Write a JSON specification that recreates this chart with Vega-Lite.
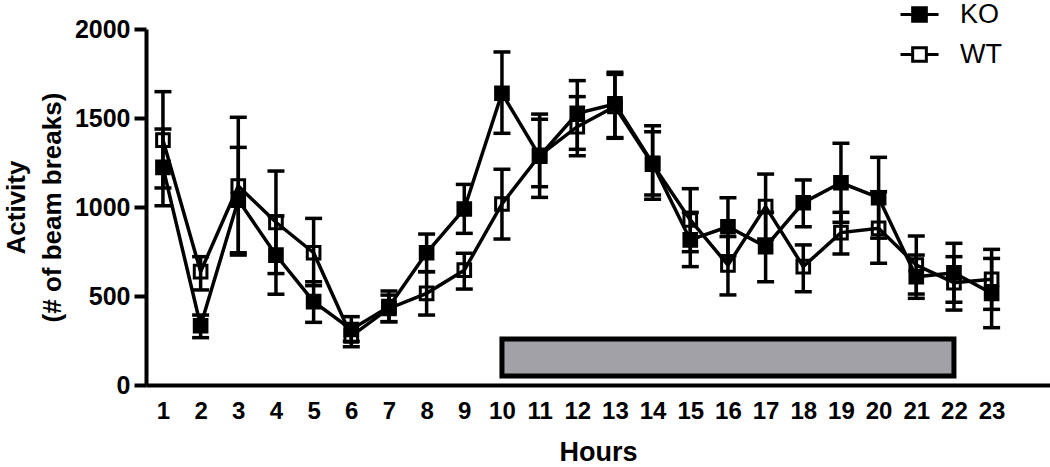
{
  "$schema": "https://vega.github.io/schema/vega-lite/v6.json",
  "width": 904,
  "height": 356,
  "padding": {"left": 146, "top": 29, "right": 0, "bottom": 82},
  "autosize": {"type": "none"},
  "background": "white",
  "config": {
    "view": {"stroke": null},
    "font": "Liberation Sans"
  },
  "datasets": {
    "activity": [
      {"hour": 1, "group": "KO", "mean": 1223, "lo": 1007, "hi": 1438},
      {"hour": 2, "group": "KO", "mean": 333, "lo": 266, "hi": 393},
      {"hour": 3, "group": "KO", "mean": 1039, "lo": 743, "hi": 1335},
      {"hour": 4, "group": "KO", "mean": 730, "lo": 510, "hi": 950},
      {"hour": 5, "group": "KO", "mean": 468, "lo": 352, "hi": 580},
      {"hour": 6, "group": "KO", "mean": 312, "lo": 245, "hi": 384},
      {"hour": 7, "group": "KO", "mean": 440, "lo": 356, "hi": 528},
      {"hour": 8, "group": "KO", "mean": 743, "lo": 636, "hi": 848},
      {"hour": 9, "group": "KO", "mean": 989, "lo": 852, "hi": 1127},
      {"hour": 10, "group": "KO", "mean": 1639, "lo": 1414, "hi": 1871},
      {"hour": 11, "group": "KO", "mean": 1285, "lo": 1054, "hi": 1522},
      {"hour": 12, "group": "KO", "mean": 1526, "lo": 1324, "hi": 1710},
      {"hour": 13, "group": "KO", "mean": 1579, "lo": 1386, "hi": 1757},
      {"hour": 14, "group": "KO", "mean": 1245, "lo": 1043, "hi": 1457},
      {"hour": 15, "group": "KO", "mean": 815, "lo": 665, "hi": 970},
      {"hour": 16, "group": "KO", "mean": 889, "lo": 726, "hi": 1052},
      {"hour": 17, "group": "KO", "mean": 777, "lo": 580, "hi": 970},
      {"hour": 18, "group": "KO", "mean": 1024, "lo": 889, "hi": 1152},
      {"hour": 19, "group": "KO", "mean": 1136, "lo": 914, "hi": 1358},
      {"hour": 20, "group": "KO", "mean": 1052, "lo": 825, "hi": 1279},
      {"hour": 21, "group": "KO", "mean": 608, "lo": 487, "hi": 730},
      {"hour": 22, "group": "KO", "mean": 630, "lo": 465, "hi": 796},
      {"hour": 23, "group": "KO", "mean": 515, "lo": 322, "hi": 711},
      {"hour": 1, "group": "WT", "mean": 1376, "lo": 1107, "hi": 1648},
      {"hour": 2, "group": "WT", "mean": 637, "lo": 534, "hi": 721},
      {"hour": 3, "group": "WT", "mean": 1118, "lo": 730, "hi": 1504},
      {"hour": 4, "group": "WT", "mean": 914, "lo": 626, "hi": 1202},
      {"hour": 5, "group": "WT", "mean": 743, "lo": 558, "hi": 936},
      {"hour": 6, "group": "WT", "mean": 275, "lo": 215, "hi": 340},
      {"hour": 7, "group": "WT", "mean": 430, "lo": 355, "hi": 505},
      {"hour": 8, "group": "WT", "mean": 515, "lo": 393, "hi": 637},
      {"hour": 9, "group": "WT", "mean": 645, "lo": 539, "hi": 740},
      {"hour": 10, "group": "WT", "mean": 1017, "lo": 820, "hi": 1212},
      {"hour": 11, "group": "WT", "mean": 1290, "lo": 1114, "hi": 1493},
      {"hour": 12, "group": "WT", "mean": 1451, "lo": 1288, "hi": 1620},
      {"hour": 13, "group": "WT", "mean": 1565, "lo": 1390, "hi": 1745},
      {"hour": 14, "group": "WT", "mean": 1240, "lo": 1067, "hi": 1423},
      {"hour": 15, "group": "WT", "mean": 927, "lo": 749, "hi": 1103},
      {"hour": 16, "group": "WT", "mean": 674, "lo": 506, "hi": 834},
      {"hour": 17, "group": "WT", "mean": 1002, "lo": 820, "hi": 1185},
      {"hour": 18, "group": "WT", "mean": 665, "lo": 524, "hi": 787},
      {"hour": 19, "group": "WT", "mean": 856, "lo": 736, "hi": 970},
      {"hour": 20, "group": "WT", "mean": 880, "lo": 684, "hi": 1086},
      {"hour": 21, "group": "WT", "mean": 674, "lo": 511, "hi": 837},
      {"hour": 22, "group": "WT", "mean": 575, "lo": 421, "hi": 721},
      {"hour": 23, "group": "WT", "mean": 594, "lo": 425, "hi": 762}
    ],
    "dark": [
      {"start": 10, "end": 22, "low": 50, "high": 258}
    ]
  },
  "layer": [
    {
      "data": {"name": "dark"},
      "mark": {"type": "rect", "fill": "#a2a2a6", "stroke": "black", "strokeWidth": 5},
      "encoding": {
        "x": {"field": "start", "type": "quantitative",
          "scale": {"domain": [0.55, 24.55], "nice": false, "zero": false},
          "axis": {
            "values": [1,2,3,4,5,6,7,8,9,10,11,12,13,14,15,16,17,18,19,20,21,22,23],
            "format": "d",
            "title": "Hours",
            "grid": false,
            "ticks": false,
            "tickSize": 0,
            "domainColor": "black",
            "domainWidth": 4,
            "labelFont": "Liberation Sans",
            "labelFontWeight": "bold",
            "labelFontSize": 24,
            "labelColor": "black",
            "labelPadding": 14,
            "labelFlush": false,
            "labelOverlap": false,
            "titleFont": "Liberation Sans",
            "titleFontWeight": "bold",
            "titleFontSize": 27,
            "titleColor": "black",
            "titlePadding": 16
          }
        },
        "x2": {"field": "end"},
        "y": {"field": "low", "type": "quantitative",
          "scale": {"domain": [0, 2000], "nice": false},
          "axis": {
            "values": [0, 500, 1000, 1500, 2000],
            "format": "d",
            "title": ["Activity", "(# of beam breaks)"],
            "grid": false,
            "domainColor": "black",
            "domainWidth": 4,
            "tickColor": "black",
            "tickWidth": 4,
            "tickSize": 12,
            "labelFont": "Liberation Sans",
            "labelFontWeight": "bold",
            "labelFontSize": 25,
            "labelColor": "black",
            "labelPadding": 4,
            "labelFlush": false,
            "titleFont": "Liberation Sans",
            "titleFontWeight": "bold",
            "titleFontSize": 26,
            "titleLineHeight": 36,
            "titleColor": "black",
            "titlePadding": 9
          }
        },
        "y2": {"field": "high"}
      }
    },
    {
      "data": {"name": "activity"},
      "layer": [
        {
          "mark": {"type": "line", "color": "black", "strokeWidth": 3.5},
          "encoding": {
            "x": {"field": "hour", "type": "quantitative"},
            "y": {"field": "mean", "type": "quantitative"},
            "detail": {"field": "group"}
          }
        },
        {
          "mark": {"type": "rule", "color": "black", "strokeWidth": 3.5},
          "encoding": {
            "x": {"field": "hour", "type": "quantitative"},
            "y": {"field": "lo", "type": "quantitative"},
            "y2": {"field": "hi"}
          }
        },
        {
          "mark": {"type": "tick", "orient": "horizontal", "color": "black", "size": 17, "thickness": 3.5, "opacity": 1},
          "encoding": {
            "x": {"field": "hour", "type": "quantitative"},
            "y": {"field": "lo", "type": "quantitative"}
          }
        },
        {
          "mark": {"type": "tick", "orient": "horizontal", "color": "black", "size": 17, "thickness": 3.5, "opacity": 1},
          "encoding": {
            "x": {"field": "hour", "type": "quantitative"},
            "y": {"field": "hi", "type": "quantitative"}
          }
        },
        {
          "mark": {"type": "square", "size": 160, "stroke": "black", "strokeWidth": 3, "opacity": 1},
          "encoding": {
            "x": {"field": "hour", "type": "quantitative"},
            "y": {"field": "mean", "type": "quantitative"},
            "order": {"field": "group", "sort": "descending"},
            "fill": {
              "field": "group", "type": "nominal",
              "scale": {"domain": ["KO", "WT"], "range": ["black", "transparent"]},
              "legend": {
                "title": null,
                "orient": "none",
                "legendX": 753,
                "legendY": -35,
                "padding": 0,
                "symbolType": "M-1,0H-0.36M0.36,0H1M-0.36,-0.36H0.36V0.36H-0.36Z",
                "symbolSize": 1444,
                "symbolStrokeColor": "black",
                "symbolStrokeWidth": 3,
                "symbolOpacity": 1,
                "labelFont": "Liberation Sans",
                "labelFontSize": 27,
                "labelColor": "black",
                "labelOffset": 20,
                "rowPadding": 6
              }
            }
          }
        }
      ]
    }
  ]
}
